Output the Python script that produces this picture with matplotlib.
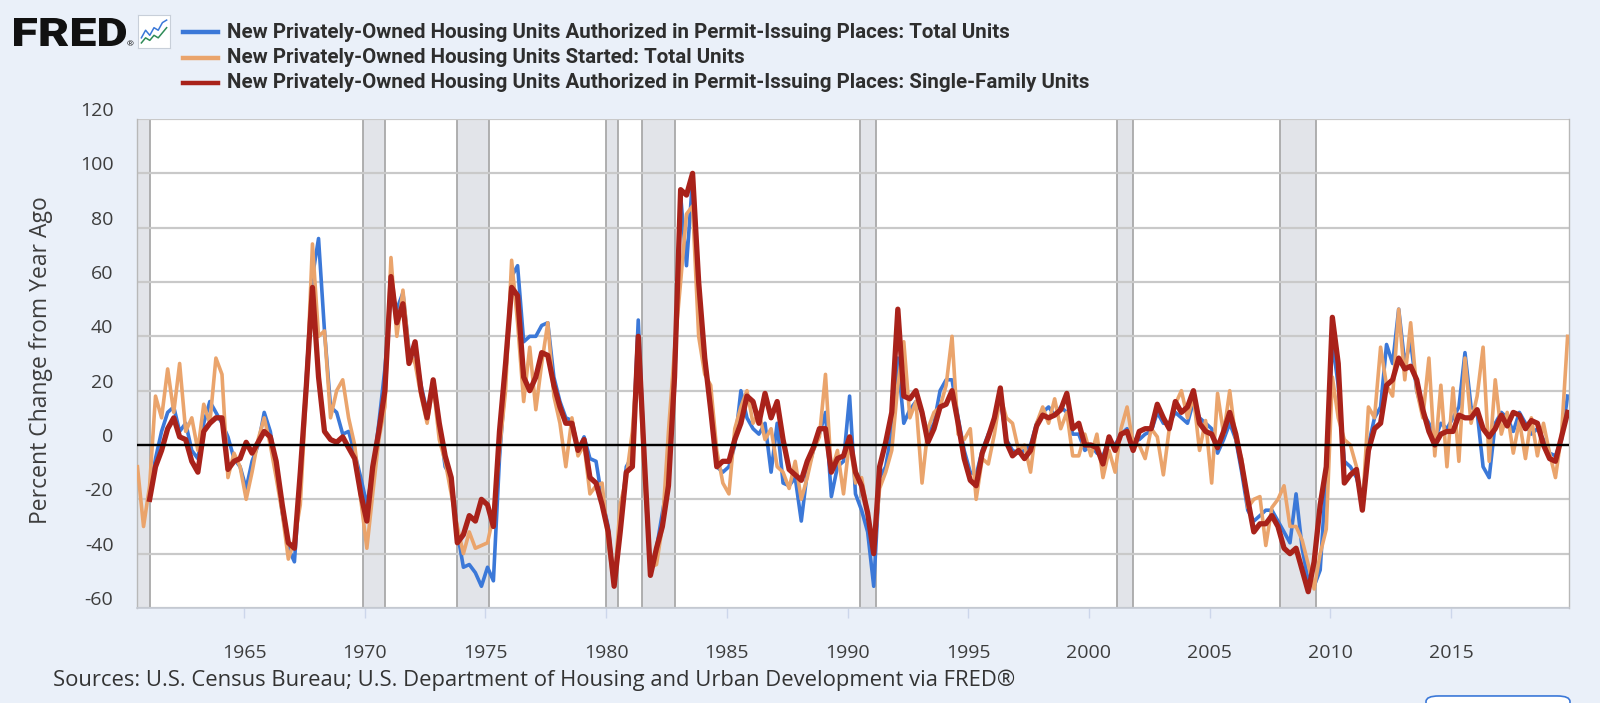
import numpy as np
import pandas as pd
import matplotlib
matplotlib.use("Agg")
import matplotlib.pyplot as plt
import matplotlib.dates as mdates
from matplotlib.lines import Line2D
from matplotlib.patches import FancyBboxPatch, PathPatch
from matplotlib.textpath import TextPath
from matplotlib.font_manager import FontProperties
from matplotlib.transforms import ScaledTranslation, Affine2D

plt.rcParams['font.family'] = ['Open Sans', 'DejaVu Sans']
plt.rcParams['axes.unicode_minus'] = False

# percent change from year ago, every 3 months
# permits total, from 1961-02
permits_total = [
    -18, -5, 5, 12,  14, 5, 8, -2,  -5, 8, 16, 12,  8, 3, -5, -8,        # 1961-64
    -16, -6, 0, 12,  5, -8, -25, -38,  -43, -12, 25, 62,  76, 42, 14, 12,  # 1965-68
    4, 5, -3, -12,  -22, -10, 8, 28,  56, 50, 56, 35,  35, 22, 12, 22,    # 1969-72
    8, -8, -12, -32,  -45, -44, -47, -52,  -45, -50, -5, 25,  62, 66, 38, 40,  # 1973-76
    40, 44, 45, 25,  16, 10, 9, -2,  3, -5, -6, -20,  -30, -52, -30, -8,  # 1977-80
    -4, 46, -5, -46,  -38, -25, -12, 22,  92, 66, 98, 50,  32, 14, -8, -10,  # 1981-84
    -8, 0, 20, 10,  6, 4, 8, -10,  8, -14, -15, -12,  -28, -10, -2, 4,    # 1985-88
    12, -19, -8, -6,  18, -18, -24, -32,  -52, -12, -8, 5,  32, 8, 13, 16,  # 1989-92
    12, 4, 8, 20,  24, 24, 10, -2,  -10, -11, -2, 4,  8, 17, 2, -2,       # 1993-96
    -3, -2, 0, 8,  12, 14, 11, 14,  12, 4, 4, -2,  0, -3, -4, 2,          # 1997-2000
    0, 4, 6, 2,  2, 4, 5, 12,  8, 8, 12, 10,  8, 16, 10, 8,               # 2001-04
    6, -3, 2, 8,  2, -10, -24, -28,  -26, -24, -24, -28,  -32, -36, -18, -38,  # 2005-08
    -50, -52, -46, -10,  38, 22, -6, -8,  -12, -20, 0, 10,  14, 37, 30, 50,  # 2009-12
    30, 38, 20, 12,  8, 2, 8, 6,  10, 14, 34, 14,  12, -8, -12, 8,        # 2013-16
    12, 10, 5, 12,  8, 4, 6, 2,  -3, -4, 2, 18,                           # 2017-19
]

# housing starts total, from 1960-08
starts_total = [
    -8, -30,                                                              # 1960
    -15, 18, 10, 28,  12, 30, 5, 10,  -2, 15, 8, 32,  26, -12, -3, -8,    # 1961-64
    -20, -10, 2, 10,  0, -12, -25, -42,  -35, -22, 20, 74,  40, 42, 10, 20,  # 1965-68
    24, 10, 0, -20,  -38, -18, 2, 14,  69, 40, 57, 34,  30, 18, 8, 22,    # 1969-72
    2, -6, -18, -30,  -40, -32, -38, -37,  -36, -26, -2, 20,  68, 45, 16, 36,  # 1973-76
    13, 30, 45, 18,  8, -8, 10, -4,  0, -18, -15, -14,  -36, -52, -22, -12,  # 1977-80
    5, 36, -12, -45,  -44, -30, 5, 35,  60, 85, 88, 40,  26, 22, -2, -14,  # 1981-84
    -18, 6, 14, 20,  8, 12, 2, 6,  -8, -10, -16, -6,  -20, -12, -2, 3,    # 1985-88
    26, -10, -2, -18,  2, -14, -12, -25,  -40, -16, -10, -2,  22, 38, 10, 16,  # 1989-92
    -14, 6, 12, 14,  22, 40, 4, 2,  6, -20, -5, -7,  4, 18, 10, 8,        # 1993-96
    -2, 0, -10, 8,  14, 8, 17, 6,  12, -4, -4, 4,  -4, 4, -12, -2,        # 1997-2000
    -10, 6, 14, 0,  0, -5, 6, 3,  -11, 6, 15, 20,  10, 18, -2, 9,         # 2001-04
    -14, 19, 4, 20,  2, -5, -23, -20,  -19, -37, -23, -20,  -15, -30, -30, -35,  # 2005-08
    -44, -53, -40, -31,  25, 10, 2, 0,  -8, -24, 14, 10,  36, 22, 18, 50,  # 2009-12
    24, 45, 20, 10,  32, -4, 22, -8,  21, -6, 32, 8,  18, 36, -6, 24,     # 2013-16
    4, 12, -3, 9,  -5, 10, -4, 8,  -3, -12, 4, 40,                        # 2017-19
]

# permits single-family, from 1961-02
permits_single = [
    -20, -8, -2, 6,  10, 3, 2, -6,  -10, 5, 8, 10,  10, -9, -6, -5,       # 1961-64
    1, -3, 1, 5,  3, -6, -22, -36,  -38, -10, 22, 58,  25, 5, 2, 1,       # 1965-68
    3, -1, -5, -18,  -28, -8, 5, 20,  62, 45, 52, 30,  38, 20, 10, 24,    # 1969-72
    8, -4, -12, -36,  -33, -26, -28, -20,  -22, -30, 5, 30,  58, 55, 25, 20,  # 1973-76
    25, 34, 33, 22,  14, 8, 8, -2,  2, -12, -14, -22,  -32, -52, -32, -10,  # 1977-80
    -8, 40, -5, -48,  -38, -30, -15, 25,  94, 92, 100, 60,  32, 13, -8, -6,  # 1981-84
    -6, 2, 8, 18,  16, 8, 19, 10,  16, 2, -9, -11,  -13, -6, -1, 6,       # 1985-88
    6, -10, -5, -4,  3, -10, -15, -25,  -40, -8, 1, 12,  50, 18, 17, 20,  # 1989-92
    12, 1, 6, 14,  15, 20, 8, -5,  -13, -15, -3, 3,  10, 21, 1, -4,       # 1993-96
    -2, -5, -2, 7,  11, 10, 11, 13,  19, 6, 8, 0,  0, -1, -7, 3,          # 1997-2000
    -2, 4, 5, -2,  5, 6, 6, 15,  10, 6, 16, 12,  14, 20, 8, 5,            # 2001-04
    4, -1, 5, 12,  4, -7, -20, -32,  -29, -29, -26, -30,  -38, -40, -38, -46,  # 2005-08
    -54, -43, -22, -8,  47, 30, -14, -11,  -9, -24, -2, 6,  8, 22, 24, 32,  # 2009-12
    28, 29, 24, 13,  5, 0, 4, 5,  5, 11, 10, 10,  13, 6, 3, 6,            # 2013-16
    11, 7, 12, 11,  6, 9, 8, 0,  -5, -6, 3, 12,                           # 2017-19
]

series_names = [
    "New Privately-Owned Housing Units Authorized in Permit-Issuing Places: Total Units",
    "New Privately-Owned Housing Units Started: Total Units",
    "New Privately-Owned Housing Units Authorized in Permit-Issuing Places: Single-Family Units",
]
series_colors = ["#3b78d8", "#eaa46c", "#a9221a"]

recessions = [
    ("1960-04-01", "1961-02-01"), ("1969-12-01", "1970-11-01"),
    ("1973-11-01", "1975-03-01"), ("1980-01-01", "1980-07-01"),
    ("1981-07-01", "1982-11-01"), ("1990-07-01", "1991-03-01"),
    ("2001-03-01", "2001-11-01"), ("2007-12-01", "2009-06-01"),
]

# little logo chart
icon_blue = [2, 5, 3, 6, 5, 8, 9]
icon_green = [0, 2, 1, 3, 2, 4, 6]

dates_permits = pd.date_range("1961-02-01", periods=len(permits_total), freq="3MS")
dates_starts = pd.date_range("1960-08-01", periods=len(starts_total), freq="3MS")

BG = "#eaf0f9"
W, H = 1600, 703
fig = plt.figure(figsize=(W / 100, H / 100), dpi=100)
fig.patch.set_facecolor(BG)
ax = fig.add_axes([137 / W, 1 - 608 / H, 1432 / W, 489 / H])
ax.set_facecolor("white")

# recession bars
for start, end in recessions:
    s, e = pd.Timestamp(start), pd.Timestamp(end)
    ax.axvspan(s, e, color="#e2e4e9", lw=0, zorder=0.1)
    ax.axvline(s, color="#a9a9a9", lw=1.3, zorder=0.2)
    ax.axvline(e, color="#a9a9a9", lw=1.3, zorder=0.2)

ax.plot(dates_permits, permits_total, color=series_colors[0], lw=2.6, zorder=2)
ax.plot(dates_starts, starts_total, color=series_colors[1], lw=2.6, zorder=3)
ax.plot(dates_permits, permits_single, color=series_colors[2], lw=3.8, zorder=4)
ax.axhline(0, color="black", lw=1.7, zorder=5)

ax.set_xlim(pd.Timestamp("1960-07-25"), pd.Timestamp("2019-11-22"))
ax.set_ylim(-60, 120)
ax.set_yticks(np.arange(-60, 121, 20))
ax.yaxis.grid(True, color="#c9c9c9", lw=1.6)
ax.set_axisbelow(True)

ax.xaxis.set_major_locator(mdates.YearLocator(5))
ax.xaxis.set_major_formatter(mdates.DateFormatter("%Y"))

ax.spines["top"].set_visible(False)
for side in ["left", "right"]:
    ax.spines[side].set_color("#b8b8b8")
    ax.spines[side].set_linewidth(1.0)
ax.spines["bottom"].set_color("#c4c9d3")
ax.spines["bottom"].set_linewidth(1.2)

ax.tick_params(axis="y", length=0, pad=17, labelsize=14, labelcolor="#3d3d3d")
ax.tick_params(axis="x", length=7, width=1, color="#ccd6eb", pad=19,
               labelsize=14, labelcolor="#3d3d3d")
for lbl in ax.get_yticklabels():
    lbl.set_transform(lbl.get_transform() + ScaledTranslation(0, 0.10, fig.dpi_scale_trans))

fig.text(41 / W, 1 - 360 / H, "Percent Change from Year Ago", rotation=90,
         ha="center", va="center", fontsize=16.5, color="#3d3d3d")

# header: logo stretched into its box, then the legend
logo = TextPath((0, 0), "FRED", size=40,
                prop=FontProperties(family=["Roboto", "DejaVu Sans"], weight="black"))
bb = logo.get_extents()
logo_tf = (Affine2D().translate(-bb.x0, -bb.y0)
           .scale(112 / bb.width, 28 / bb.height).translate(14, H - 46))
fig.add_artist(PathPatch(logo, transform=logo_tf, facecolor="#111111", lw=0))
fig.text(127 / W, 1 - 45 / H, "®", fontsize=6, color="#111111", va="center")

icon = fig.add_axes([138 / W, 1 - 48 / H, 32 / W, 33 / H])
icon.set_facecolor("white")
icon.plot(icon_blue, color="#3b78d8", lw=1.1)
icon.plot(icon_green, color="#2e8b57", lw=1.1)
icon.set_xticks([])
icon.set_yticks([])
icon.set_ylim(-2, 11)
icon.set_xlim(-0.8, 6.8)
for sp in icon.spines.values():
    sp.set_color("#c8cfd9")

for i, (name, col) in enumerate(zip(series_names, series_colors)):
    yy = 1 - (32 + 25.5 * i) / H
    fig.add_artist(Line2D([183 / W, 218 / W], [yy, yy], transform=fig.transFigure,
                          color=col, lw=3.2))
    fig.text(227 / W, yy, name, fontsize=14.8, fontweight="bold",
             family=["Roboto", "DejaVu Sans"], color="#2e2e2e", va="center", ha="left")

fig.text(53 / W, 1 - 680 / H,
         "Sources: U.S. Census Bureau; U.S. Department of Housing and Urban Development via FRED®",
         fontsize=15.8, color="#333333", va="center", ha="left")

fig.add_artist(FancyBboxPatch((1426 / W, -0.03), 144 / W, 0.04,
                              boxstyle="round,pad=0,rounding_size=0.008",
                              transform=fig.transFigure, facecolor="white",
                              edgecolor="#3b78d8", lw=1.2))

fig.savefig("out.png", dpi=100, facecolor=BG)
